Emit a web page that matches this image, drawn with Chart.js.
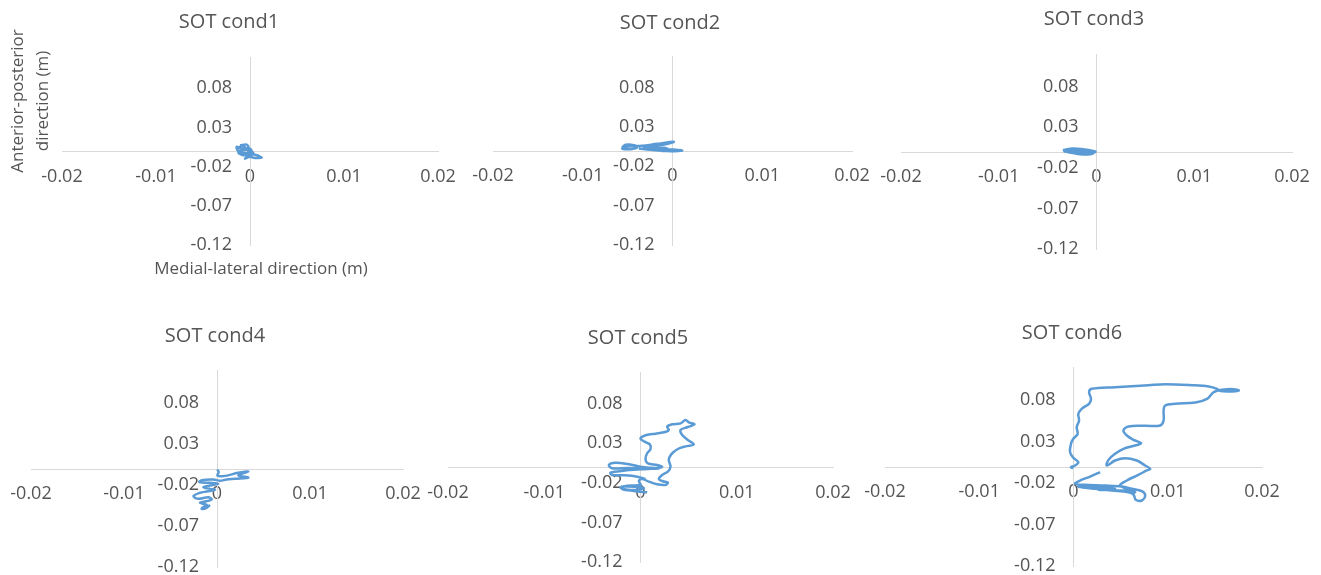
<!DOCTYPE html>
<html lang="en">
<head>
<meta charset="utf-8">
<title>SOT cond1-6</title>
<script src="https://cdn.jsdelivr.net/npm/chart.js@4.4.1/dist/chart.umd.min.js"></script>
<style>
  html, body { margin: 0; padding: 0; background: #fff; overflow: hidden; }
  body { width: 1321px; height: 575px; position: relative; }
  canvas { position: absolute; }
</style>
</head>
<body>
<script>
// Ejes comunes
const xTicks = [-0.02, -0.01, 0, 0.01, 0.02];
const yTicks = [-0.12, -0.07, -0.02, 0.03, 0.08];
const titulos = ["SOT cond1", "SOT cond2", "SOT cond3", "SOT cond4", "SOT cond5", "SOT cond6"];
const tituloEjeX = "Medial-lateral direction (m)";
const tituloEjeY = ["Anterior-posterior", "direction (m)"];

// Trayectorias (m)
const cond1X = [-0.00106, -0.00035, -0.00018, -0.00089, -0.00142, -0.00124, -0.00053, 0, 0.00018, -0.00053, -0.00124, -0.00071, 0.00018, 0.00071, 0.00124, 0.00053, -0.00018, -0.00053, 0, 0.00035, -0.00018, -0.00071, -0.00124, -0.00035, 0.00035, -0.00089];
const cond1Y = [0.0072, 0.0081, 0.0043, 0.003, 0.0055, 0, 0.0013, 0.003, -0.0013, -0.003, -0.0021, -0.0055, -0.0043, -0.0055, -0.0085, -0.0089, -0.0072, -0.0098, -0.0064, -0.0021, 0, 0.0064, 0.0038, 0.0025, -0.0034, -0.0047];

const cond2X = [-0.00561, -0.00524, -0.00431, -0.00394, -0.00468, -0.00561, -0.00487, -0.00338, -0.00171, 0.00015, -0.00097, -0.00245, -0.0032, -0.00208, -0.00097, -0.00041, -0.00134, -0.00208, -0.00059, 0.00108, -0.00022, -0.00245, -0.00375];
const cond2Y = [0.0038, 0.0072, 0.0068, 0.0038, 0.0017, 0.0025, 0.0051, 0.0059, 0.0085, 0.011, 0.0076, 0.0051, 0.0034, 0.003, 0.0034, 0.0008, -0.0004, 0.0017, 0.0017, 0, -0.0008, 0.0008, 0.0025];

const cond3X = [-0.00345, -0.00242, -0.0014, -0.00055, -0.0001, -0.00072, -0.00174, -0.00276, -0.00328, -0.00208, -0.00089, -0.00038, -0.0014, -0.00242, -0.00311, -0.00191, -0.00072, -0.0002, -0.00157, -0.00259];
const cond3Y = [0.0016, 0.0037, 0.0029, 0.0012, -0.0004, -0.002, -0.0029, -0.0012, 0.0004, 0.0012, -0.0004, -0.0025, -0.0037, -0.002, 0.0012, 0.002, 0.0004, -0.0012, -0.0016, 0.0004];

const cond4X = [0.00004, 0.00018, 0.00004, 0.00068, 0.00229, 0.00337, 0.00229, 0.00337, 0.00194, 0.00104, 0.00032, -0.00039, -0.00165, -0.0019, -0.00075, 0.00014, -0.00075, -0.00147, -0.00075, -0.00022, -0.00111, -0.00183, -0.00254, -0.00201, -0.00093, -0.00057, -0.00129, -0.00183, -0.00111, -0.00147, -0.00165, -0.00118, -0.00075];
const cond4Y = [-0.0012, -0.0045, -0.0085, -0.0093, -0.0053, -0.0037, -0.0085, -0.011, -0.0126, -0.0134, -0.015, -0.0134, -0.0142, -0.0166, -0.0175, -0.0187, -0.0207, -0.0227, -0.0248, -0.026, -0.028, -0.0296, -0.0337, -0.0369, -0.0349, -0.0378, -0.0402, -0.0418, -0.0443, -0.0471, -0.0491, -0.0483, -0.0443];

const cond5X = [0.00069, -0.00069, -0.0019, -0.00173, -0.00035, 0.00035, -0.00104, -0.00208, -0.00139, 0, -0.00017, 0.00017, 0.00087, 0.00173, 0.0026, 0.00284, 0.00225, 0.0019, 0.00225, 0.00284, 0.00312, 0.00294, 0.00319, 0.00388, 0.00468, 0.00554, 0.00492, 0.00433, 0.00416, 0.00492, 0.00561, 0.00502, 0.00468, 0.00416, 0.00329, 0.00277, 0.00294, 0.00242, 0.00156, 0.00062, 0, 0.00042, 0.00097, 0.00104, 0.00069, 0.00052, 0.00076, 0.00173, 0.00225, 0.00156, 0.00017, -0.00121, -0.0026, -0.00329, -0.00294, -0.00139, 0.00035, 0.0019, 0.00017, -0.00173, -0.00312, -0.00294, -0.00173, -0.00035, 0.00052];
const cond5Y = [-0.032, -0.0303, -0.0278, -0.0248, -0.0253, -0.0269, -0.029, -0.0261, -0.0236, -0.0227, -0.0177, -0.0152, -0.0185, -0.0219, -0.0227, -0.0198, -0.0177, -0.0152, -0.0101, -0.0059, 0.0004, 0.0088, 0.016, 0.0227, 0.0261, 0.0286, 0.0341, 0.0404, 0.0467, 0.0505, 0.0539, 0.0564, 0.0593, 0.0551, 0.0539, 0.0509, 0.0467, 0.0438, 0.0421, 0.0404, 0.0362, 0.032, 0.0286, 0.0227, 0.0173, 0.0101, 0.0046, 0.0025, 0, -0.0013, 0, 0.0034, 0.0055, 0.0025, -0.0017, -0.0013, -0.0017, -0.0017, -0.0029, -0.0046, -0.0072, -0.0101, -0.0105, -0.0122, -0.0152];

const cond6X = [0.00282, 0.00176, 0.00069, 0.00016, 0.00122, 0.00335, 0.00512, 0.00619, 0.00725, 0.00761, 0.00725, 0.00661, 0.00637, 0.00583, 0.00406, 0.00229, 0.00122, 0.00051, 0.00229, 0.00441, 0.00264, 0.00512, 0.00654, 0.00495, 0.00566, 0.00672, 0.00778, 0.00814, 0.00761, 0.00672, 0.00548, 0.00441, 0.00353, 0.00371, 0.00441, 0.0053, 0.00654, 0.00718, 0.00637, 0.00566, 0.0053, 0.00583, 0.00761, 0.0092, 0.00956, 0.00956, 0.00973, 0.0108, 0.01293, 0.01417, 0.01488, 0.01576, 0.017, 0.01754, 0.01683, 0.01559, 0.01523, 0.01434, 0.01257, 0.00973, 0.00796, 0.00441, 0.00193, 0.00165, 0.00186, 0.00165, 0.00087, 0.00051, 0.00059, 0.00034, 0.00044, -0.00002, -0.00027, -0.00037, -0.00002, 0.00051, 0.00016, -0.00027, -0.00002];
const cond6Y = [-0.0068, -0.0121, -0.0169, -0.0209, -0.0221, -0.0229, -0.0241, -0.0269, -0.0298, -0.035, -0.041, -0.0402, -0.0338, -0.031, -0.029, -0.0269, -0.0257, -0.0241, -0.0249, -0.0269, -0.0281, -0.029, -0.031, -0.0229, -0.0169, -0.0109, -0.0048, -0.0028, 0.0012, 0.0072, 0.0101, 0.0072, 0.0012, 0.008, 0.0153, 0.0213, 0.0253, 0.0281, 0.0322, 0.0374, 0.0434, 0.0483, 0.0491, 0.0495, 0.0555, 0.0676, 0.0736, 0.0756, 0.0772, 0.0816, 0.0897, 0.0925, 0.0933, 0.0917, 0.0905, 0.0909, 0.0937, 0.0965, 0.0981, 0.0993, 0.0981, 0.0957, 0.0937, 0.0897, 0.0816, 0.0756, 0.0696, 0.0635, 0.0555, 0.0474, 0.0394, 0.0334, 0.0273, 0.0173, 0.0105, 0.0052, 0.0012, -0.0008, -0.002];

const seriesX = [cond1X, cond2X, cond3X, cond4X, cond5X, cond6X];
const seriesY = [cond1Y, cond2Y, cond3Y, cond4Y, cond5Y, cond6Y];

// Área de trazado de cada panel en la página: [izq, der, arriba, abajo] y centro del título
const paneles = [
  { plot: [62, 438, 57, 245], titulo: [229, 22], ejes: true },
  { plot: [493, 852, 56, 245], titulo: [670, 23] },
  { plot: [901, 1292, 54, 249], titulo: [1094, 19] },
  { plot: [31, 403, 370, 567], titulo: [215, 336] },
  { plot: [448, 833, 372, 562], titulo: [638, 338] },
  { plot: [885, 1262, 367, 566], titulo: [1072, 333] }
];

const colorTexto = "#555555";
const colorEje = "#d9d9d9";
const colorLinea = "#5B9BD5";
const fuente = "'Open Sans', 'Segoe UI', sans-serif";
const MARGEN_X = 62, MARGEN_ARRIBA = 50, MARGEN_ABAJO = 60;

// Títulos del gráfico y de los ejes, dibujados en coordenadas de la página
const rotulos = {
  id: "rotulos",
  afterDraw(chart, args, opts) {
    const ctx = chart.ctx;
    ctx.save();
    ctx.translate(-opts.ox, -opts.oy);
    ctx.fillStyle = colorTexto;
    ctx.textAlign = "center";
    ctx.textBaseline = "middle";
    ctx.font = "20px " + fuente;
    ctx.fillText(opts.texto, opts.tx, opts.ty);
    if (opts.ejes) {
      ctx.font = "17px " + fuente;
      ctx.fillText(tituloEjeX, 261, 269);
      ctx.translate(30, 101);
      ctx.rotate(-Math.PI / 2);
      ctx.fillText(tituloEjeY[0], 0, -12);
      ctx.fillText(tituloEjeY[1], 0, 13);
    }
    ctx.restore();
  }
};

function ejeCruzado(eje, min, max, ticks, padding) {
  return {
    type: "linear",
    axis: eje,
    position: "center",
    min: min,
    max: max,
    afterBuildTicks: (s) => { s.ticks = ticks.map((v) => ({ value: v })); },
    grid: { display: false, drawTicks: false },
    border: { display: true, color: colorEje, width: 1 },
    ticks: {
      color: colorTexto,
      font: { family: fuente, size: 18 },
      padding: padding,
      autoSkip: false,
      maxRotation: 0,
      callback: (v) => String(v)
    }
  };
}

paneles.forEach((p, i) => {
  const [izq, der, arriba, abajo] = p.plot;
  const canvas = document.createElement("canvas");
  const left = izq - MARGEN_X;
  const top = arriba - MARGEN_ARRIBA;
  const ancho = der - izq + 2 * MARGEN_X;
  const alto = abajo - arriba + MARGEN_ARRIBA + MARGEN_ABAJO;
  canvas.width = ancho;
  canvas.height = alto;
  canvas.style.left = left + "px";
  canvas.style.top = top + "px";
  document.body.appendChild(canvas);

  const puntos = seriesX[i].map((x, k) => ({ x: x, y: seriesY[i][k] }));

  new Chart(canvas.getContext("2d"), {
    type: "scatter",
    data: {
      datasets: [{
        label: titulos[i],
        data: puntos,
        showLine: true,
        borderColor: colorLinea,
        backgroundColor: colorLinea,
        borderWidth: 2.5,
        pointRadius: 0,
        tension: 0.35,
        fill: false
      }]
    },
    options: {
      responsive: false,
      animation: false,
      events: [],
      layout: { padding: { left: MARGEN_X, right: MARGEN_X, top: MARGEN_ARRIBA, bottom: MARGEN_ABAJO } },
      scales: {
        x: ejeCruzado("x", -0.02, 0.02, xTicks, 15),
        y: ejeCruzado("y", -0.12, 0.12, yTicks, 18)
      },
      plugins: {
        legend: { display: false },
        tooltip: { enabled: false },
        title: { display: false },
        rotulos: { texto: titulos[i], tx: p.titulo[0], ty: p.titulo[1], ox: left, oy: top, ejes: !!p.ejes }
      }
    },
    plugins: [rotulos]
  });
});
</script>
</body>
</html>
